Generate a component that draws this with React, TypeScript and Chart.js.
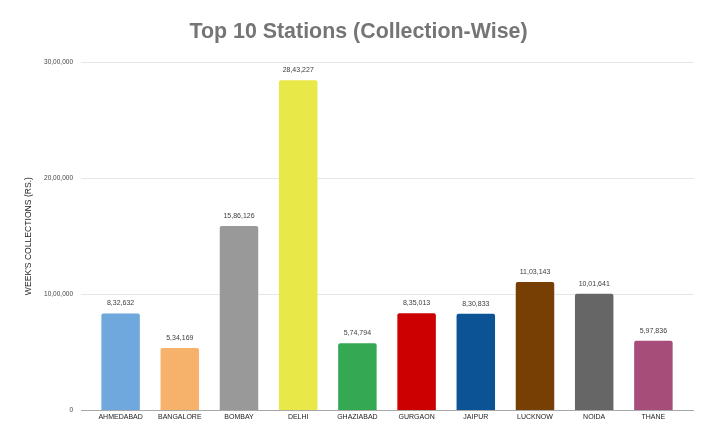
import React, { useEffect, useRef } from "react";
import { Chart, registerables } from "chart.js";

Chart.register(...registerables);

const stations = ["AHMEDABAD", "BANGALORE", "BOMBAY", "DELHI", "GHAZIABAD", "GURGAON", "JAIPUR", "LUCKNOW", "NOIDA", "THANE"];
const collections = [832632, 534169, 1586126, 2843227, 574794, 835013, 830833, 1103143, 1001641, 597836];
const barColors = ["#6fa8dc", "#f6b26b", "#999999", "#e8e848", "#34a853", "#cc0000", "#0b5394", "#783f04", "#666666", "#a64d79"];
const yTickValues = [0, 1000000, 2000000, 3000000];

const FONT = "'Liberation Sans', Arial, sans-serif";

function formatIndian(n: number): string {
  const s = Math.round(n).toString();
  if (s.length <= 3) return s;
  const last3 = s.slice(-3);
  let rest = s.slice(0, -3);
  const parts: string[] = [];
  while (rest.length > 2) {
    parts.unshift(rest.slice(-2));
    rest = rest.slice(0, -2);
  }
  if (rest.length) parts.unshift(rest);
  return parts.join(",") + "," + last3;
}

const gridPlugin = {
  id: "extGrid",
  beforeDatasetsDraw(chart: any) {
    const { ctx, chartArea, scales } = chart;
    const y = scales.y;
    ctx.save();
    ctx.lineWidth = 1;
    ctx.strokeStyle = "#e6e6e6";
    yTickValues.forEach((v) => {
      if (v === 0) return;
      const py = Math.round(y.getPixelForValue(v)) + 0.5;
      ctx.beginPath();
      ctx.moveTo(chartArea.left - 10, py);
      ctx.lineTo(chartArea.right + 11, py);
      ctx.stroke();
    });
    ctx.restore();
  },
  afterDatasetsDraw(chart: any) {
    const { ctx, chartArea, scales } = chart;
    const y = scales.y;
    ctx.save();
    ctx.lineWidth = 1;
    ctx.strokeStyle = "#a8a8a8";
    const py = Math.round(y.getPixelForValue(0)) + 0.5;
    ctx.beginPath();
    ctx.moveTo(chartArea.left - 10, py);
    ctx.lineTo(chartArea.right + 11, py);
    ctx.stroke();

    const meta = chart.getDatasetMeta(0);
    ctx.fillStyle = "#3c3c3c";
    ctx.font = `7px ${FONT}`;
    ctx.textAlign = "center";
    ctx.textBaseline = "middle";
    meta.data.forEach((bar: any, i: number) => {
      const val = chart.data.datasets[0].data[i] as number;
      ctx.fillText(formatIndian(val), bar.x, bar.y - 10);
    });
    ctx.restore();
  },
};

export default function App() {
  const canvasRef = useRef<HTMLCanvasElement | null>(null);

  useEffect(() => {
    document.body.style.margin = "0";
    const canvas = canvasRef.current;
    if (!canvas) return;
    const chart = new Chart(canvas, {
      type: "bar",
      data: {
        labels: stations,
        datasets: [
          {
            data: collections,
            backgroundColor: barColors,
            borderWidth: 0,
            borderRadius: { topLeft: 2, topRight: 2, bottomLeft: 0, bottomRight: 0 },
            borderSkipped: false,
            categoryPercentage: 1,
            barPercentage: 0.65,
          },
        ],
      },
      options: {
        animation: false,
        responsive: true,
        maintainAspectRatio: false,
        layout: { padding: { left: 0, right: 0, top: 0, bottom: 0 } },
        plugins: {
          legend: { display: false },
          tooltip: { enabled: false },
          title: {
            display: true,
            text: "Top 10 Stations (Collection-Wise)",
            color: "#757575",
            font: { family: FONT, size: 21.4, weight: "bold" },
            padding: { top: 19, bottom: 17.5 },
          },
        },
        scales: {
          x: {
            grid: { display: false, drawTicks: false },
            border: { display: false },
            ticks: {
              color: "#222222",
              font: { family: FONT, size: 7 },
              padding: 3,
              maxRotation: 0,
              autoSkip: false,
            },
            afterFit(scale: any) {
              scale.height = 32;
            },
          },
          y: {
            min: 0,
            max: 3000000,
            grid: { display: false, drawTicks: false },
            border: { display: false },
            afterBuildTicks(scale: any) {
              scale.ticks = yTickValues.map((v) => ({ value: v }));
            },
            ticks: {
              color: "#444444",
              font: { family: FONT, size: 6.5 },
              padding: 18,
              callback: (v: any) => formatIndian(Number(v)),
            },
            title: {
              display: true,
              text: "WEEK'S COLLECTIONS (RS.)",
              color: "#222222",
              font: { family: FONT, size: 8.6 },
              padding: { top: 23, bottom: 0 },
            },
            afterFit(scale: any) {
              scale.width = 91;
            },
          },
          yRight: {
            type: "linear",
            position: "right",
            display: true,
            grid: { display: false, drawTicks: false },
            border: { display: false },
            ticks: { display: false },
            afterFit(scale: any) {
              scale.width = 34;
            },
          },
        },
      },
      plugins: [gridPlugin],
    } as any);
    return () => chart.destroy();
  }, []);

  return (
    <div style={{ position: "relative", width: 717, height: 442 }}>
      <canvas ref={canvasRef} />
    </div>
  );
}
